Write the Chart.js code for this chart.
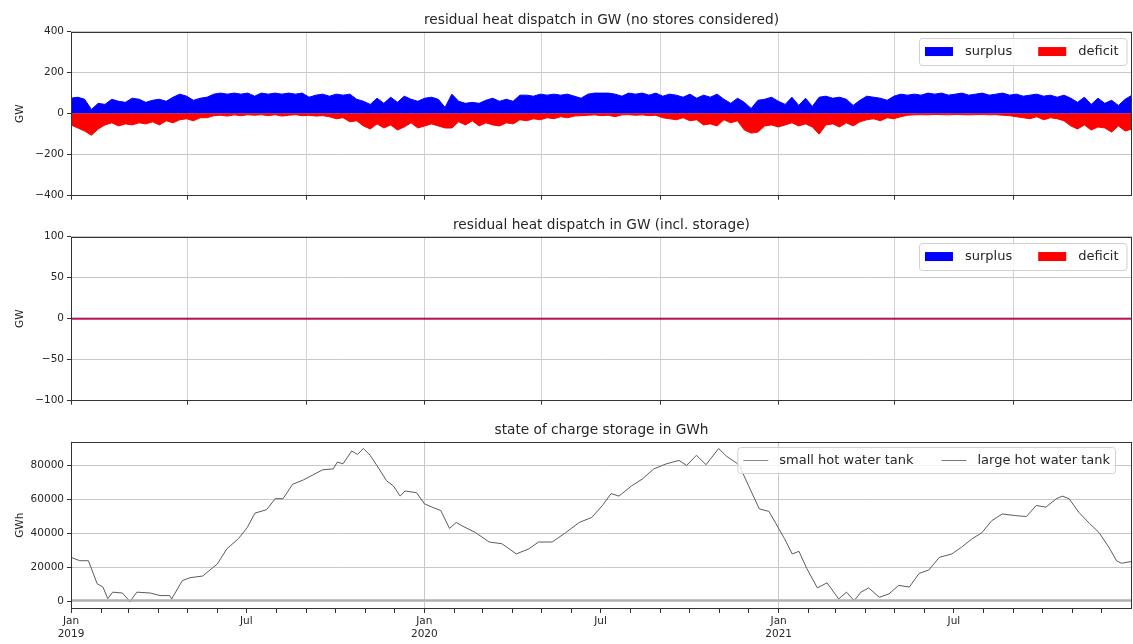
<!DOCTYPE html>
<html>
<head>
<meta charset="utf-8">
<script src="https://cdn.jsdelivr.net/npm/chart.js@4.4.0/dist/chart.umd.min.js"></script>
<style>
  html, body { margin: 0; padding: 0; background: #fff; }
  #wrap { position: relative; width: 1133px; height: 644px; overflow: hidden; }
  canvas { position: absolute; left: 0; }
</style>
</head>
<body>
<div id="wrap">
  <canvas id="c1" width="1133" height="205" style="top:0px"></canvas>
  <canvas id="c2" width="1133" height="205" style="top:205px"></canvas>
  <canvas id="c3" width="1133" height="234" style="top:410px"></canvas>
</div>
<script>
// weekly envelope of the hourly residual heat (GW)
const weekFirst = '2019-01-01';
const weekLast = '2022-01-01';
const surplus2019 = [75,80,70,20,50,45,70,60,55,75,70,55,65,70,60,80,95,85,65,75,80,95,100,95,100,95,100,85,100,95,100,95,100,95,100,80,90,95,85,95,90,95,70,60,45,75,50,80,55,85,70,60,75];
const surplus2020 = [80,70,30,95,60,50,55,50,65,75,60,70,60,90,90,85,95,90,95,90,95,85,75,95,100,100,100,95,85,100,95,100,90,100,85,95,90,80,95,75,90,80,95,70,50,75,55,25,65,70,80,60];
const surplus2021 = [45,80,40,75,35,80,85,75,80,70,40,65,85,80,75,65,85,95,90,95,90,100,95,100,90,95,100,90,95,100,90,95,100,90,95,85,90,95,85,90,80,90,75,55,80,45,75,50,65,40,70,90];
const deficit2019 = [-55,-70,-85,-105,-75,-55,-45,-60,-50,-55,-45,-50,-40,-55,-35,-45,-30,-25,-35,-20,-20,-10,-8,-12,-6,-10,-5,-8,-5,-10,-5,-12,-8,-5,-10,-8,-12,-10,-15,-25,-20,-40,-35,-60,-75,-50,-70,-55,-80,-65,-45,-70,-60];
const deficit2020 = [-50,-60,-70,-70,-40,-55,-35,-60,-45,-55,-60,-45,-50,-30,-35,-25,-30,-20,-25,-15,-20,-12,-10,-8,-6,-10,-8,-15,-6,-5,-8,-6,-10,-8,-20,-25,-30,-20,-35,-30,-55,-50,-60,-30,-45,-35,-80,-95,-90,-60,-55,-65];
const deficit2021 = [-55,-45,-60,-50,-65,-100,-55,-50,-65,-45,-60,-40,-30,-25,-35,-20,-25,-15,-8,-6,-5,-6,-4,-5,-6,-4,-5,-6,-5,-4,-6,-5,-8,-10,-15,-20,-25,-15,-30,-20,-25,-35,-60,-75,-55,-80,-65,-70,-90,-60,-85,-75];

// with storage everything is balanced
const withStoreDates = ['2019-01-01', '2022-01-01'];
const withStoreSurplus = [0, 0];
const withStoreDeficit = [0, 0];

// state of charge (GWh)
const largeTankDates = ['2019-01-01','2019-01-10','2019-01-19','2019-01-28','2019-02-03','2019-02-08','2019-02-13','2019-02-23','2019-03-03','2019-03-10','2019-03-24','2019-04-03','2019-04-13','2019-04-15','2019-04-26','2019-05-04','2019-05-17','2019-06-01','2019-06-11','2019-06-23','2019-07-02','2019-07-10','2019-07-22','2019-07-31','2019-08-08','2019-08-18','2019-08-29','2019-09-08','2019-09-18','2019-09-29','2019-10-03','2019-10-09','2019-10-18','2019-10-24','2019-10-30','2019-11-06','2019-11-13','2019-11-23','2019-11-30','2019-12-07','2019-12-12','2019-12-24','2020-01-01','2020-01-09','2020-01-18','2020-01-27','2020-02-03','2020-02-09','2020-02-23','2020-03-08','2020-03-21','2020-04-05','2020-04-18','2020-04-28','2020-05-12','2020-05-26','2020-06-09','2020-06-22','2020-07-03','2020-07-12','2020-07-20','2020-08-02','2020-08-13','2020-08-25','2020-09-07','2020-09-20','2020-09-28','2020-10-08','2020-10-18','2020-10-31','2020-11-08','2020-11-21','2020-12-01','2020-12-12','2020-12-22','2020-12-29','2021-01-07','2021-01-15','2021-01-22','2021-01-30','2021-02-10','2021-02-20','2021-03-04','2021-03-12','2021-03-20','2021-03-27','2021-04-04','2021-04-15','2021-04-25','2021-05-05','2021-05-16','2021-05-26','2021-06-05','2021-06-16','2021-06-29','2021-07-09','2021-07-20','2021-07-30','2021-08-09','2021-08-20','2021-09-03','2021-09-14','2021-09-24','2021-10-04','2021-10-15','2021-10-21','2021-10-28','2021-11-07','2021-11-18','2021-11-28','2021-12-08','2021-12-16','2021-12-21','2021-12-31'];
const largeTank = [26000,24000,24000,10500,8500,1700,5500,5000,0,5500,5000,3500,3500,1500,12300,14000,15000,22000,31000,37000,43500,52000,54000,60500,60500,69000,71500,74500,77500,78000,82000,81000,88500,86500,90000,86000,80000,71000,68000,62000,65000,64000,57500,55500,53500,43000,46500,44500,40500,35000,34000,28000,31000,35000,35000,40500,46500,49500,56500,63500,62000,68000,72000,78000,81000,83000,80000,86000,80500,90000,85500,80500,68000,54500,53000,46000,37000,28000,29500,19500,8000,11000,1500,5500,500,5500,8000,2500,4500,9500,8500,16500,18500,26000,28000,32000,37000,40500,47500,51500,50500,50000,56500,55500,60500,62000,60500,52500,46000,40500,32000,24000,22500,23500];
const smallTankDates = ['2019-01-01','2019-07-01','2020-01-01','2020-07-01','2021-01-01','2021-07-01','2021-12-31'];
const smallTank = [800,800,800,800,800,800,800];

const gwTop = [-400,-200,0,200,400];
const gwMid = [-100,-50,0,50,100];
const gwhTicks = [0,20000,40000,60000,80000];

const FONT = 'DejaVu Sans';
const TXT = '#262626';
const t0 = Date.UTC(2019, 0, 1);
const dayOf = s => (Date.parse(s) - t0) / 86400000;
const xEnd = dayOf('2022-01-01');

const monthTicks = [];
for (let y = 2019; y <= 2021; y++) {
  for (let m = 0; m < 12; m++) monthTicks.push({value: (Date.UTC(y, m, 1) - t0) / 86400000, y: y, m: m});
}
const thirdTicks = monthTicks.filter(t => t.m % 4 === 0);

function weekly(arr) {
  const a = dayOf(weekFirst), b = dayOf(weekLast);
  return arr.map((v, i) => ({x: a + (b - a) * i / (arr.length - 1), y: v}));
}
function dated(dates, vals) {
  return dates.map((d, i) => ({x: dayOf(d), y: vals[i]}));
}

const framePlugin = {
  id: 'frame',
  afterDatasetsDraw(chart) {
    const {ctx, chartArea: a} = chart;
    ctx.save();
    ctx.strokeStyle = '#333';
    ctx.lineWidth = 1;
    ctx.strokeRect(Math.round(a.left) + 0.5, Math.round(a.top) + 0.5,
      Math.round(a.right - a.left) - 1, Math.round(a.bottom - a.top) - 1);
    ctx.restore();
  }
};

const innerLegend = {
  id: 'innerLegend',
  afterDraw(chart, args, o) {
    const {ctx, chartArea: a} = chart;
    ctx.save();
    ctx.font = '13px "' + FONT + '"';
    const items = chart.data.datasets.map(d => ({label: d.label, color: d.legendColor || d.borderColor}));
    let w = o.padL + o.padR;
    items.forEach((it, i) => { w += o.sw + o.gap + ctx.measureText(it.label).width + (i ? o.sep : 0); });
    const x0 = a.right - o.right - w, y0 = a.top + o.top;
    ctx.beginPath();
    ctx.roundRect(x0 + 0.5, y0 + 0.5, w, o.h, 3);
    ctx.fillStyle = 'rgba(255,255,255,0.8)';
    ctx.fill();
    ctx.strokeStyle = '#d0d0d0';
    ctx.lineWidth = 1;
    ctx.stroke();
    const cy = y0 + o.h / 2;
    let x = x0 + o.padL;
    items.forEach((it, i) => {
      if (i) x += o.sep;
      if (o.kind === 'patch') {
        ctx.fillStyle = it.color;
        ctx.fillRect(x, cy - 4.5, o.sw, 9);
      } else {
        ctx.strokeStyle = it.color;
        ctx.lineWidth = 1;
        ctx.beginPath();
        ctx.moveTo(x, Math.round(cy) + 0.5);
        ctx.lineTo(x + o.sw, Math.round(cy) + 0.5);
        ctx.stroke();
      }
      x += o.sw + o.gap;
      ctx.fillStyle = TXT;
      ctx.textBaseline = 'middle';
      ctx.fillText(it.label, x, cy + 0.5);
      x += ctx.measureText(it.label).width;
    });
    ctx.restore();
  }
};

function xScale(kind, h) {
  const list = kind === 'months' ? monthTicks : thirdTicks;
  return {
    type: 'linear', min: 0, max: xEnd,
    border: {display: false},
    afterBuildTicks: s => { s.ticks = list.map(t => ({value: t.value})); },
    afterFit: s => { s.height = h; },
    grid: {
      color: c => {
        if (kind !== 'months') return '#d2d2d2';
        const t = list[c.index];
        return t && t.m === 0 ? '#c8c8c8' : 'rgba(0,0,0,0)';
      },
      tickColor: '#333', tickLength: 4, lineWidth: 1
    },
    ticks: {
      display: kind === 'months',
      autoSkip: false, maxRotation: 0, padding: 2, color: TXT,
      font: {family: FONT, size: 10.5, lineHeight: 1.2},
      callback: (v, i) => {
        const t = list[i];
        if (!t) return '';
        if (t.m === 0) return ['Jan', String(t.y)];
        if (t.m === 6) return 'Jul';
        return '';
      }
    }
  };
}

function yScale(min, max, vals, label) {
  return {
    min: min, max: max,
    border: {display: false},
    afterBuildTicks: s => { s.ticks = vals.map(v => ({value: v})); },
    afterFit: s => { s.width = 71; },
    grid: {color: '#c8c8c8', tickColor: '#333', tickLength: 4, lineWidth: 1},
    ticks: {
      color: TXT, padding: 3,
      font: {family: FONT, size: 10.5},
      callback: v => String(v).replace('-', '\u2212')
    },
    title: {display: true, text: label, color: TXT, font: {family: FONT, size: 10.5}, padding: {top: 14, bottom: 0}}
  };
}

function titleOpts(text) {
  return {
    display: true, text: text, fullSize: false, color: TXT,
    font: {family: FONT, size: 13.7, weight: 'normal', lineHeight: 1.2},
    padding: {top: 12.5, bottom: 2.6}
  };
}

const patchLegend = {kind: 'patch', padL: 6, sw: 28, gap: 12, sep: 26, padR: 8, h: 27, right: 5.5, top: 6.5};

function areaSet(label, data, color, order) {
  return {label: label, data: data, borderColor: color, backgroundColor: color, order: order,
    fill: 'origin', borderWidth: 1, pointRadius: 0, tension: 0};
}

const base = {
  responsive: false, animation: false, events: [],
  layout: {padding: {left: 0, right: 1, top: 0, bottom: 0}}
};

new Chart(document.getElementById('c1'), {
  type: 'line',
  data: {datasets: [
    areaSet('surplus', weekly(surplus2019.concat(surplus2020, surplus2021)), '#0000ff', 1),
    areaSet('deficit', weekly(deficit2019.concat(deficit2020, deficit2021)), '#ff0000', 0)
  ]},
  options: Object.assign({}, base, {
    scales: {x: xScale('thirds', 5.5), y: yScale(-400, 400, gwTop, 'GW')},
    plugins: {
      legend: {display: false}, tooltip: {enabled: false},
      title: titleOpts('residual heat dispatch in GW (no stores considered)'),
      innerLegend: patchLegend
    }
  }),
  plugins: [framePlugin, innerLegend]
});

new Chart(document.getElementById('c2'), {
  type: 'line',
  data: {datasets: [
    {label: 'surplus', data: dated(withStoreDates, withStoreSurplus), borderColor: '#0000ff', borderWidth: 1.6, pointRadius: 0, order: 1},
    {label: 'deficit', data: dated(withStoreDates, withStoreDeficit), borderColor: '#ff0000', borderWidth: 1.2, pointRadius: 0, order: 0}
  ]},
  options: Object.assign({}, base, {
    scales: {x: xScale('thirds', 6.5), y: yScale(-100, 100, gwMid, 'GW')},
    plugins: {
      legend: {display: false}, tooltip: {enabled: false},
      title: titleOpts('residual heat dispatch in GW (incl. storage)'),
      innerLegend: patchLegend
    }
  }),
  plugins: [framePlugin, innerLegend]
});

new Chart(document.getElementById('c3'), {
  type: 'line',
  data: {datasets: [
    {label: 'small hot water tank', data: dated(smallTankDates, smallTank), borderColor: '#b0b0b0', legendColor: '#8a8a8a', borderWidth: 2, pointRadius: 0},
    {label: 'large hot water tank', data: dated(largeTankDates, largeTank), borderColor: '#5c5c5c', legendColor: '#7a7a7a', borderWidth: 1, pointRadius: 0, tension: 0}
  ]},
  options: Object.assign({}, base, {
    scales: {x: xScale('months', 35), y: yScale(-4400, 94100, gwhTicks, 'GWh')},
    plugins: {
      legend: {display: false}, tooltip: {enabled: false},
      title: titleOpts('state of charge storage in GWh'),
      innerLegend: {kind: 'line', padL: 6, sw: 25, gap: 11, sep: 28, padR: 5, h: 26, right: 17, top: 5.5}
    }
  }),
  plugins: [framePlugin, innerLegend]
});
</script>
</body>
</html>
